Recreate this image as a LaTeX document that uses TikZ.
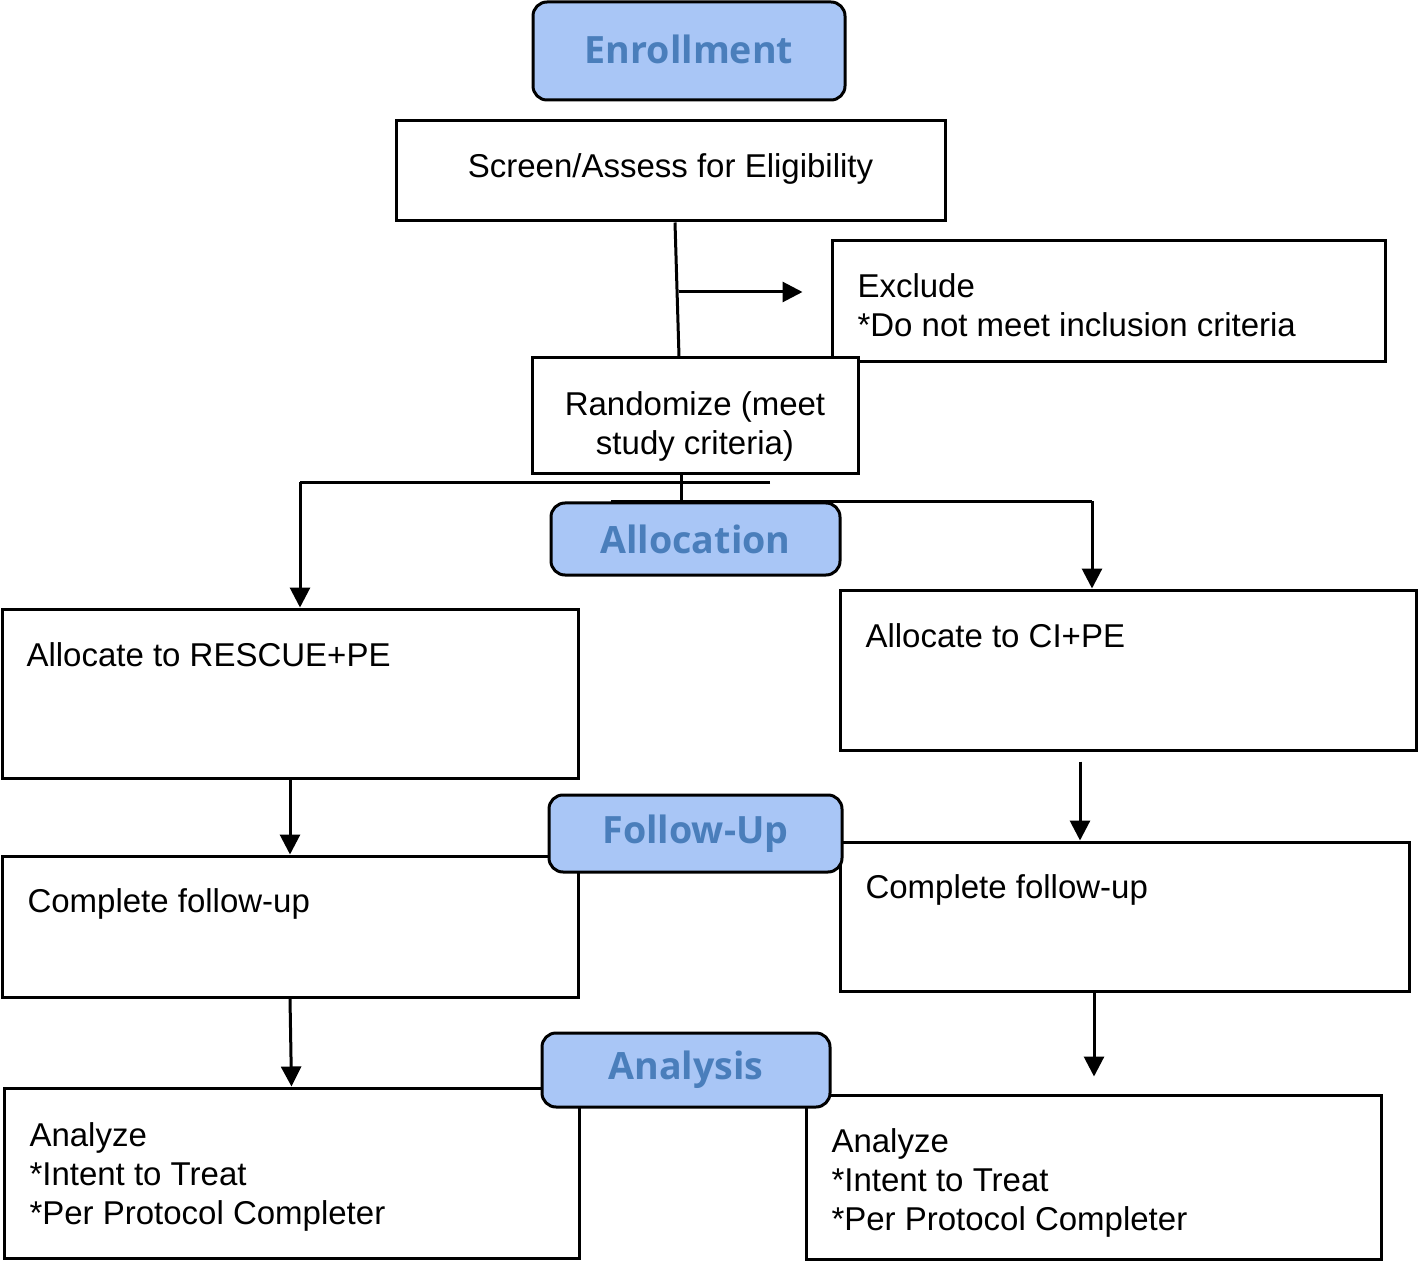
\documentclass[tikz,border=0pt]{standalone}
\usepackage{fontspec}
\setmainfont{Liberation Sans}
\newfontfamily\headfont{Open Sans}
\usetikzlibrary{arrows.meta,calc}
\definecolor{hdrfill}{HTML}{A9C6F6}
\definecolor{hdrtext}{HTML}{4A7EBB}
\begin{document}
\begin{tikzpicture}[x=0.5pt,y=-0.5pt,
  line width=1.5pt,
  box/.style={draw=black,line width=1.5pt,fill=white,inner sep=0pt,font=\fontsize{16.5}{19.5}\selectfont},
  hdr/.style={draw=black,line width=1.5pt,fill=hdrfill,rounded corners=7pt,inner sep=0pt,
    text=hdrtext,font=\headfont\bfseries\fontsize{18.8}{22}\selectfont},
  txt/.style={anchor=north west,align=left,inner sep=0pt,font=\fontsize{16.5}{19.5}\selectfont},
  arr/.style={-{Triangle[length=10pt,width=10pt]},line width=1.5pt}
]
\useasboundingbox (0,0) rectangle (1418,1261);
% boxes
\node[box,minimum width=276.5pt,minimum height=60.5pt] (exclude) at (1108.5,301.5) {};
\node[txt] at (856,272) {Exclude\\*Do not meet inclusion criteria};
\node[box,minimum width=274.5pt,minimum height=50pt] (screen) at (670.5,171) {};
\node[txt,anchor=center] at (670.5,169) {Screen/Assess for Eligibility};
\node[box,minimum width=163pt,minimum height=58pt] (rand) at (695,416) {};
\node[txt,anchor=center,align=center] at (695,426) {Randomize (meet\\study criteria)};

\node[box,minimum width=288pt,minimum height=84.5pt] (resc) at (290,693.5) {};
\node[txt] at (25,641) {Allocate to RESCUE+PE};
\node[box,minimum width=288pt,minimum height=80pt] (ci) at (1128,670) {};
\node[txt] at (864,622) {Allocate to CI+PE};
\node[box,minimum width=288pt,minimum height=70.5pt] (fl) at (290,926.5) {};
\node[txt] at (26,887) {Complete follow-up};
\node[box,minimum width=284.5pt,minimum height=74.5pt] (fr) at (1124.5,916.5) {};
\node[txt] at (864,873) {Complete follow-up};
\node[box,minimum width=287.5pt,minimum height=85pt] (al) at (291.5,1173) {};
\node[txt] at (28,1121) {Analyze\\*Intent to Treat\\*Per Protocol Completer};
\node[box,minimum width=287.5pt,minimum height=82pt] (ar) at (1093.5,1177) {};
\node[txt] at (830,1127) {Analyze\\*Intent to Treat\\*Per Protocol Completer};

% headers
\node[hdr,minimum width=156pt,minimum height=49pt] (enroll) at (689,51) {\raisebox{2pt}{Enrollment}};
\node[hdr,minimum width=144.5pt,minimum height=36pt] (alloc) at (695.5,539) {Allocation};
\node[hdr,minimum width=146.5pt,minimum height=38.5pt] (fu) at (695.5,833.5) {\raisebox{-1.5pt}{Follow-Up}};
\node[hdr,minimum width=144pt,minimum height=37pt] (an) at (686,1070) {\raisebox{-1pt}{Analysis}};

% connectors
\draw ([xshift=2.25pt]screen.south) -- ([xshift=-8pt]rand.north);
\coordinate (exA) at ($([xshift=-76pt]exclude.west)+(0,-9.5)$);
\coordinate (exB) at ($([xshift=-14pt]exclude.west)+(0,-9.5)$);
\draw[arr] (exA) -- (exB);

\coordinate (rb) at ([xshift=-7pt]rand.south);
\coordinate (hL) at ($(rb)+(0,7)$);
\draw (rb) -- ($(rb)+(0,26)$);
\draw ($(hL)+(89,0)$) -- (hL -| {$(resc.north)+(10,0)$}) coordinate (lc);
\draw[arr] (lc) -- ([xshift=5pt]resc.north);
\coordinate (hR) at ($(rb)+(-70,26)$);
\draw (hR) -- (hR -| {$(ci.north)+(-36,0)$}) coordinate (rc);
\draw[arr] (rc) -- ([xshift=-18pt]ci.north);

\draw[arr] (resc.south) -- (fl.north);
\draw[arr] ([xshift=-24pt,yshift=-5pt]ci.south) -- ([xshift=-22.25pt]fr.north);
\draw[arr] (fl.south) -- (al.north);
\coordinate (arEnd) at ([xshift=0.25pt,yshift=8.5pt]ar.north);
\draw[arr] ([xshift=-15.25pt]fr.south) -- (arEnd);
\end{tikzpicture}
\end{document}
